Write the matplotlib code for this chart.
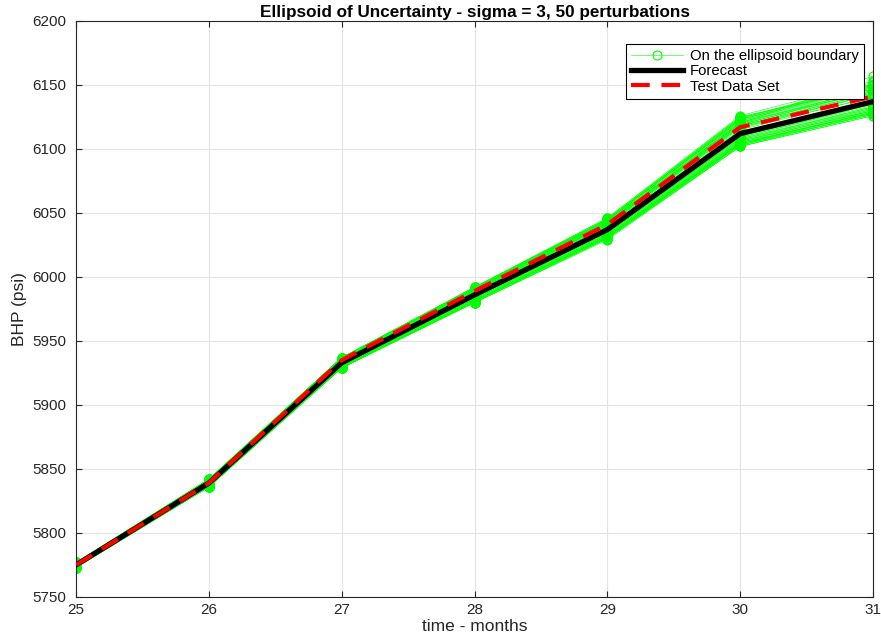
import matplotlib
matplotlib.use("Agg")
import matplotlib.pyplot as plt
import numpy as np

plt.rcParams['font.family'] = ['Liberation Sans', 'DejaVu Sans']

months = [25, 26, 27, 28, 29, 30, 31]
forecast = [5775, 5839, 5933, 5986, 6037, 6112, 6137]
test_data = [5775, 5839, 5935, 5989, 6041, 6117, 6141]

# perturbation offsets from forecast (psi), one row per perturbation (50 rows)
pert_offsets = [
    [ 1,  2,  3,  5,  8, 11, 13],
    [-1, -2, -3, -5, -6, -9, -10],
    [ 0,  1,  2,  3,  5,  8, 20],
    [ 2,  3,  4,  6,  9, 13, 12],
    [-2, -3, -4, -6, -7, -9, -8],
    [ 1,  1,  2,  2,  3,  5,  6],
    [-1, -1, -1, -3, -4, -5, -4],
    [ 0,  2,  3,  4,  6,  8, 10],
    [ 0, -2, -2, -4, -5, -7, -9],
    [ 1,  3,  2,  3,  5,  9,  8],
    [-1, -3, -2, -3, -4, -6, -7],
    [ 2,  1,  4,  5,  7, 10, 11],
    [-2, -1, -4, -5, -6, -8, -10],
    [ 0,  0,  1,  1,  2,  3,  4],
    [ 0,  0, -1, -1, -1, -2, -2],
    [ 1,  2,  3,  6,  8, 12, 14],
    [-1, -2, -3, -6, -7, -10, -11],
    [ 2,  2,  3,  4,  7, 11, 13],
    [-2, -2, -3, -4, -5, -8, -8],
    [ 1,  0,  2,  3,  4,  6,  7],
    [-1,  0, -2, -2, -3, -4, -5],
    [ 0,  3,  4,  5,  8, 12, 15],
    [ 0, -3, -4, -5, -6, -9, -10],
    [ 2,  3,  3,  5,  6,  9, 10],
    [-2, -3, -3, -5, -5, -7, -6],
    [ 1,  1,  3,  4,  6,  7,  9],
    [-1, -1, -3, -4, -5, -6, -7],
    [ 0,  2,  1,  2,  4,  6,  5],
    [ 0, -2, -1, -2, -3, -3, -3],
    [ 1,  2,  4,  6,  9, 14, 16],
    [-1, -2, -4, -6, -8, -10, -9],
    [ 2,  1,  2,  3,  5,  7,  8],
    [-2, -1, -2, -3, -3, -5, -6],
    [ 1,  3,  4,  5,  7, 10, 12],
    [-1, -3, -4, -5, -6, -8, -7],
    [ 0,  1,  0,  1,  3,  4,  6],
    [ 0, -1,  0, -1, -2, -1, -1],
    [ 2,  2,  4,  5,  8, 13, 11],
    [-2, -2, -4, -5, -6, -7, -9],
    [ 1,  0,  1,  2,  4,  5,  3],
    [-1,  0, -1, -2, -2, -3, -2],
    [ 0,  2,  3,  5,  7, 11, 12],
    [ 0, -2, -3, -5, -6, -8, -8],
    [ 1,  2,  2,  4,  6,  8, 10],
    [-1, -2, -2, -4, -4, -6, -5],
    [ 2,  3,  4,  6,  8, 12, 13],
    [-2, -3, -4, -6, -7, -10, -11],
    [ 1,  1,  2,  3,  5,  6,  7],
    [-1, -1, -2, -2, -2, -4, -4],
    [ 0,  1,  2,  3,  4,  7,  9],
]

yticks = [5750, 5800, 5850, 5900, 5950, 6000, 6050, 6100, 6150, 6200]

fig = plt.figure(figsize=(8.81, 6.39), dpi=100)
ax = fig.add_axes([76/881, 1-597/639, (873-76)/881, (597-21)/639])

green = (0.0, 1.0, 0.0)
fc = np.array(forecast)
for i, off in enumerate(pert_offsets):
    ax.plot(months, fc + np.array(off), color=green, lw=0.4, marker='o',
            markersize=6.5, markerfacecolor='none', markeredgecolor=green,
            markeredgewidth=0.8,
            label='On the ellipsoid boundary' if i == 0 else None, zorder=2)

ax.plot(months, forecast, color='black', lw=3.8, label='Forecast', zorder=3)
ax.plot(months, test_data, color='red', lw=3.0, ls=(0, (4.5, 2.8)),
        label='Test Data Set', zorder=4)

ax.set_xlim(25, 31)
ax.set_ylim(5750, 6200)
ax.set_xticks(months)
ax.set_yticks(yticks)
ax.grid(True, color='#e3e3e3', lw=0.8)
ax.set_axisbelow(True)
for s in ax.spines.values():
    s.set_color('#262626')
    s.set_linewidth(0.8)
ax.tick_params(direction='in', top=True, right=True, labelsize=11,
               colors='#262626', length=4)
ax.tick_params(axis='y', pad=7)
ax.tick_params(axis='x', pad=4)

ax.set_xlabel('time - months', fontsize=12.5, color='#262626', labelpad=2)
ax.set_ylabel('BHP (psi)', fontsize=12.5, color='#262626', labelpad=4)
ax.set_title('Ellipsoid of Uncertainty - sigma = 3, 50 perturbations',
             fontsize=12.3, fontweight='bold', pad=3)

leg = ax.legend(loc='upper right', bbox_to_anchor=(0.9887, 0.96),
                fontsize=10.7, frameon=True, fancybox=False, framealpha=1,
                edgecolor='black', borderpad=0.35, labelspacing=0.08,
                handlelength=3.5, handletextpad=0.45, borderaxespad=0.0,
                numpoints=1)
leg.get_frame().set_linewidth(0.8)

fig.savefig('out.png', dpi=100)
